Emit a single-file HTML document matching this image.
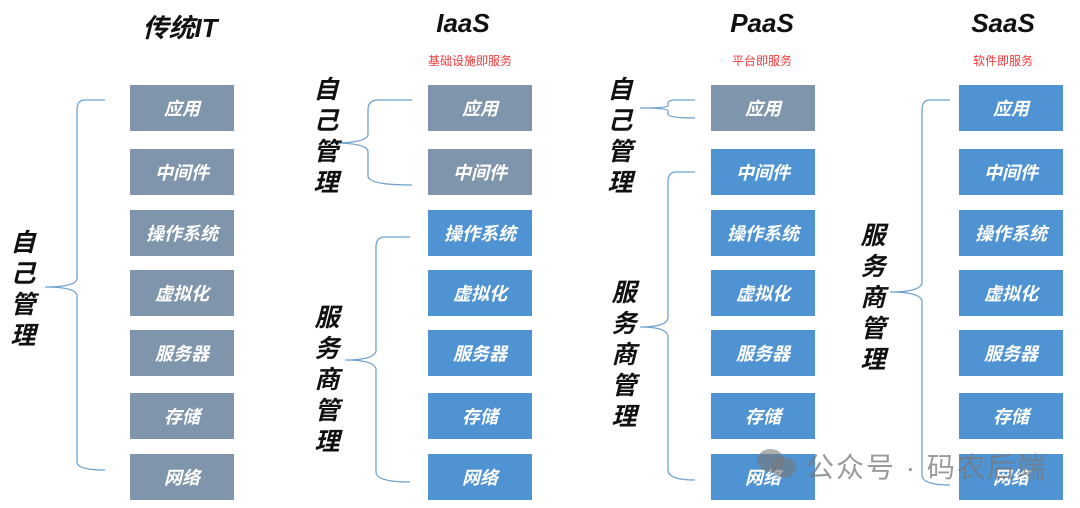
<!DOCTYPE html>
<html><head><meta charset="utf-8"><style>
body{margin:0;width:1080px;height:508px;background:#fff;position:relative;overflow:hidden;font-family:"Liberation Sans","Noto Sans CJK SC",sans-serif}
.b{position:absolute;width:104px;height:46px;color:#fff;font-size:18px;font-weight:bold;font-style:italic;display:flex;align-items:center;justify-content:center}
.g{background:#7f95ab}.u{background:#4f93d3}
.t{position:absolute;font-size:26px;font-weight:bold;font-style:italic;transform:translateX(-50%);top:8px;color:#111}
.s{position:absolute;font-size:12px;color:#f23a3a;transform:translateX(-50%);top:52px}
.v{position:absolute;font-size:25px;font-weight:bold;font-style:italic;width:30px;text-align:center;color:#111}
svg{position:absolute;left:0;top:0}
</style></head><body>
<div class="t" style="left:180px">传统IT</div>
<div class="t" style="left:463px">IaaS</div>
<div class="t" style="left:762px">PaaS</div>
<div class="t" style="left:1003px">SaaS</div>
<div class="s" style="left:470px">基础设施即服务</div>
<div class="s" style="left:762px">平台即服务</div>
<div class="s" style="left:1003px">软件即服务</div>

<svg width="1080" height="508" fill="none" stroke="#6fa3cf" stroke-width="1.3">
<path d="M105 100 H85 Q77 100 77 110 V278 Q77 287 45 287 Q77 287 77 296 V462 Q77 470 105 470"/>
<path d="M412 100 H378 Q368 100 368 110 V134 Q368 143 333 143 Q368 143 368 152 V176 Q368 185 412 185"/>
<path d="M410 237 H385 Q376 237 376 247 V350 Q376 360 345 360 Q376 360 376 370 V472 Q376 482 410 482"/>
<path d="M695 100 H675 Q668 100 668 104 V106 Q668 108 640 108 Q668 108 668 111 V114 Q668 118 695 118"/>
<path d="M695 172 H676 Q668 172 668 182 V317 Q668 327 640 327 Q668 327 668 337 V470 Q668 480 695 480"/>
<path d="M950 100 H930 Q922 100 922 110 V282 Q922 292 890 292 Q922 292 922 302 V475 Q922 485 950 485"/>
</svg>

<div class="v" style="left:8px;top:228px;line-height:31px">自<br>己<br>管<br>理</div>
<div class="v" style="left:311px;top:75px;line-height:31px">自<br>己<br>管<br>理</div>
<div class="v" style="left:312px;top:303px;line-height:31px">服<br>务<br>商<br>管<br>理</div>
<div class="v" style="left:605px;top:75px;line-height:31px">自<br>己<br>管<br>理</div>
<div class="v" style="left:609px;top:278px;line-height:31px">服<br>务<br>商<br>管<br>理</div>
<div class="v" style="left:858px;top:221px;line-height:31px">服<br>务<br>商<br>管<br>理</div>

<div class="b g" style="left:130px;top:85px">应用</div>
<div class="b g" style="left:130px;top:149px">中间件</div>
<div class="b g" style="left:130px;top:210px">操作系统</div>
<div class="b g" style="left:130px;top:270px">虚拟化</div>
<div class="b g" style="left:130px;top:330px">服务器</div>
<div class="b g" style="left:130px;top:393px">存储</div>
<div class="b g" style="left:130px;top:454px">网络</div>

<div class="b g" style="left:428px;top:85px">应用</div>
<div class="b g" style="left:428px;top:149px">中间件</div>
<div class="b u" style="left:428px;top:210px">操作系统</div>
<div class="b u" style="left:428px;top:270px">虚拟化</div>
<div class="b u" style="left:428px;top:330px">服务器</div>
<div class="b u" style="left:428px;top:393px">存储</div>
<div class="b u" style="left:428px;top:454px">网络</div>

<div class="b g" style="left:711px;top:85px">应用</div>
<div class="b u" style="left:711px;top:149px">中间件</div>
<div class="b u" style="left:711px;top:210px">操作系统</div>
<div class="b u" style="left:711px;top:270px">虚拟化</div>
<div class="b u" style="left:711px;top:330px">服务器</div>
<div class="b u" style="left:711px;top:393px">存储</div>
<div class="b u" style="left:711px;top:454px">网络</div>

<div class="b u" style="left:959px;top:85px">应用</div>
<div class="b u" style="left:959px;top:149px">中间件</div>
<div class="b u" style="left:959px;top:210px">操作系统</div>
<div class="b u" style="left:959px;top:270px">虚拟化</div>
<div class="b u" style="left:959px;top:330px">服务器</div>
<div class="b u" style="left:959px;top:393px">存储</div>
<div class="b u" style="left:959px;top:454px">网络</div>

<div style="position:absolute;left:757px;top:449px;width:27px;height:23px;border-radius:50%;background:rgba(120,120,120,0.6)"></div>
<div style="position:absolute;left:771px;top:457px;width:25px;height:21px;border-radius:50%;background:rgba(120,120,120,0.6)"></div>
<div style="position:absolute;left:806px;top:446px;font-size:28px;letter-spacing:2px;color:rgba(120,120,120,0.75);white-space:nowrap">公众号 · 码农后端</div>
</body></html>
